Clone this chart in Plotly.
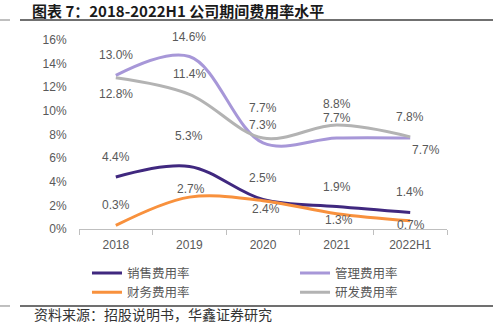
import plotly.graph_objects as go

# Period expense ratios (%), 2018 – 2022H1
years = ["2018", "2019", "2020", "2021", "2022H1"]
sales_ratio = [4.4, 5.3, 2.5, 1.9, 1.4]
admin_ratio = [13.0, 14.6, 7.3, 7.7, 7.7]
finance_ratio = [0.3, 2.7, 2.4, 1.3, 0.7]
rd_ratio = [12.8, 11.4, 7.7, 8.8, 7.8]

series_names = ["销售费用率", "管理费用率", "财务费用率", "研发费用率"]
series_values = [sales_ratio, admin_ratio, finance_ratio, rd_ratio]
series_colors = ["#40287f", "#a797d8", "#f8913d", "#b3b3b3"]
series_legends = ["legend", "legend2", "legend", "legend2"]

# Pixel offsets (dx, dy) for each value label, to keep labels clear of the lines
label_offsets = [
    [(0, 20), (0, 30), (0, 21), (0, 20), (0, 20)],
    [(0, 20), (0, 20), (0, 18), (0, 20), (16, -12)],
    [(0, 20), (2, 8), (3, -8), (2, -6), (1, -4)],
    [(0, -16), (0, 20), (0, 30), (0, 21), (0, 20)],
]

TEXT = "#595959"
CJK = "Noto Sans CJK SC"
LATIN = "Liberation Sans"

fig = go.Figure()
for name, vals, color, lg in zip(series_names, series_values, series_colors, series_legends):
    fig.add_trace(go.Scatter(
        x=years, y=vals, name=name, mode="lines",
        line=dict(color=color, width=3, shape="spline", smoothing=1.0),
        legend=lg, hoverinfo="skip",
    ))

annotations = []
for vals, offs in zip(series_values, label_offsets):
    # category index used as x so numeric-looking year names are not read as numbers
    for idx, (v, (dx, dy)) in enumerate(zip(vals, offs)):
        annotations.append(dict(
            x=idx, y=v, xref="x", yref="y", text=f"{v:.1f}%",
            showarrow=False, xshift=dx, yshift=dy,
            font=dict(family=LATIN, size=12, color=TEXT),
        ))

# Source note under the bottom rule
annotations.append(dict(
    x=-0.1277, y=-0.4497, xref="paper", yref="paper",
    xanchor="left", yanchor="middle", showarrow=False,
    text="资料来源：招股说明书，华鑫证券研究",
    font=dict(family=CJK, size=14, color="#333333"),
))

rule_color = "#404040"
shapes = [
    dict(type="line", xref="paper", yref="paper", x0=-0.1603, x1=1.13,
         y0=1.1058, y1=1.1058, line=dict(color=rule_color, width=1.3)),
    dict(type="line", xref="paper", yref="paper", x0=-0.2147, x1=-0.1875,
         y0=1.1058, y1=1.1058, line=dict(color="#808080", width=1)),
    dict(type="line", xref="paper", yref="paper", x0=-0.1603, x1=1.13,
         y0=-0.4074, y1=-0.4074, line=dict(color=rule_color, width=1.3)),
    dict(type="line", xref="paper", yref="paper", x0=-0.2147, x1=-0.1875,
         y0=-0.4074, y1=-0.4074, line=dict(color="#808080", width=1)),
]

legend_style = dict(
    orientation="v", xanchor="left", yanchor="top", y=-0.156,
    bgcolor="rgba(0,0,0,0)", font=dict(family=CJK, size=12.5, color=TEXT),
    tracegroupgap=0,
)

fig.update_layout(
    width=493, height=333,
    margin=dict(l=79, r=46, t=40, b=104),
    paper_bgcolor="white", plot_bgcolor="white",
    title=dict(
        text="<b>图表 7：2018-2022H1 公司期间费用率水平</b>",
        xref="container", yref="container", x=32 / 493, xanchor="left",
        y=1 - 11.5 / 333, yanchor="middle",
        font=dict(family=CJK, size=15, color="#1a1a1a"),
    ),
    xaxis=dict(
        type="category", range=[-0.5, 4.5], showline=True, linecolor="#bfbfbf",
        linewidth=1, ticks="outside", tickson="boundaries", ticklen=5,
        tickcolor="#bfbfbf", showgrid=False, zeroline=False,
        ticklabelstandoff=5,
        tickfont=dict(family=LATIN, size=12, color=TEXT),
    ),
    yaxis=dict(
        range=[0, 16], dtick=2, ticksuffix="%", showgrid=False, zeroline=False,
        showline=False, ticks="outside", ticklen=9, tickcolor="rgba(0,0,0,0)",
        tickfont=dict(family=LATIN, size=12, color=TEXT),
    ),
    legend=dict(x=0.0217, **legend_style),
    legend2=dict(x=0.587, **legend_style),
    showlegend=True,
    annotations=annotations,
    shapes=shapes,
)

fig.write_html("out.html")
